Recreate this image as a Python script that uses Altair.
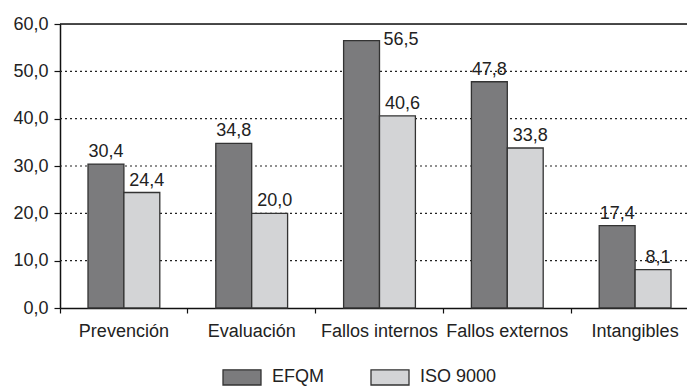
import altair as alt
import pandas as pd

categories = ["Prevención", "Evaluación", "Fallos internos", "Fallos externos", "Intangibles"]
efqm = [30.4, 34.8, 56.5, 47.8, 17.4]
iso = [24.4, 20.0, 40.6, 33.8, 8.1]
series = ["EFQM", "ISO 9000"]
y_ticks = [0, 10, 20, 30, 40, 50, 60]
grid_dotted = [10, 20, 30, 40, 50]

rows = []
for c, a, b in zip(categories, efqm, iso):
    rows.append({"cat": c, "serie": "EFQM", "value": a})
    rows.append({"cat": c, "serie": "ISO 9000", "value": b})
df = pd.DataFrame(rows)

FONT = "Liberation Sans"
W, H = 627, 284

xscale = alt.Scale(domain=categories, range=[0, 639], paddingInner=0.0, paddingOuter=0.0)
yscale = alt.Scale(domain=[0, 60], nice=False)
color = alt.Scale(domain=series, range=["#7b7b7d", "#d3d4d6"])
label_expr = "replace(format(datum.value, '.1f'), '.', ',')"

base = alt.Chart(df).encode(
    x=alt.X("cat:N", scale=xscale, sort=categories,
            axis=alt.Axis(title=None, labelFont=FONT, labelFontSize=18, labelColor="#222",
                          labelAngle=0, domainColor="#111", domainWidth=1.5, tickColor="#111",
                          tickWidth=1.2, tickSize=5, bandPosition=0, labelPadding=9,
                          labelBaseline="top", grid=False)),
    xOffset=alt.XOffset("serie:N", scale=alt.Scale(domain=series, paddingInner=0, paddingOuter=0.78)),
)

grid = alt.Chart(pd.DataFrame({"v": grid_dotted})).mark_rule(
    color="#222", strokeDash=[2, 3], strokeWidth=1.2
).encode(y=alt.Y("v:Q", scale=yscale))

top = alt.Chart(pd.DataFrame({"v": [60]})).mark_rule(color="#111", strokeWidth=1.5).encode(
    y=alt.Y("v:Q", scale=yscale)
)

bars = base.mark_bar(stroke="#333", strokeWidth=1.3).encode(
    y=alt.Y("value:Q", scale=yscale,
            axis=alt.Axis(title=None, values=y_ticks, labelExpr=label_expr, labelFont=FONT,
                          labelFontSize=18, labelColor="#222", domainColor="#111", domainWidth=1.5,
                          tickColor="#111", tickWidth=1.2, tickSize=6, labelPadding=6, grid=False)),
    color=alt.Color("serie:N", scale=color, sort=series,
                    legend=alt.Legend(title=None, orient="none", legendX=162, legendY=333,
                                      direction="horizontal", symbolType="M-1,-0.4H1V0.4H-1Z",
                                      symbolSize=1444, symbolStrokeColor="#333", symbolStrokeWidth=1.3,
                                      symbolOpacity=1, labelFont=FONT, labelFontSize=18,
                                      labelColor="#222", labelOffset=10, columnPadding=44)),
)

txt = dict(font=FONT, fontSize=18, color="#222")
lab = base.transform_calculate(lbl="replace(format(datum.value, '.1f'), '.', ',')")

dark_labels = lab.transform_filter("datum.serie == 'EFQM' && datum.value < 55").mark_text(
    baseline="alphabetic", dy=-7, **txt
).encode(y=alt.Y("value:Q", scale=yscale), text="lbl:N")

light_labels = lab.transform_filter("datum.serie == 'ISO 9000'").mark_text(
    baseline="alphabetic", dy=-7, dx=5, **txt
).encode(y=alt.Y("value:Q", scale=yscale), text="lbl:N")

side_labels = lab.transform_filter("datum.serie == 'EFQM' && datum.value >= 55").mark_text(
    baseline="alphabetic", align="left", dy=4, dx=22, **txt
).encode(y=alt.Y("value:Q", scale=yscale), text="lbl:N")

chart = alt.layer(grid, top, bars, dark_labels, light_labels, side_labels).properties(
    width=W, height=H, autosize=alt.AutoSizeParams(type="none"),
    padding={"left": 60, "top": 24, "right": 0, "bottom": 387 - 24 - H},
).configure_view(stroke=None).configure(background="white")

chart.save("out.html", embed_options={"renderer": "svg", "actions": False})
